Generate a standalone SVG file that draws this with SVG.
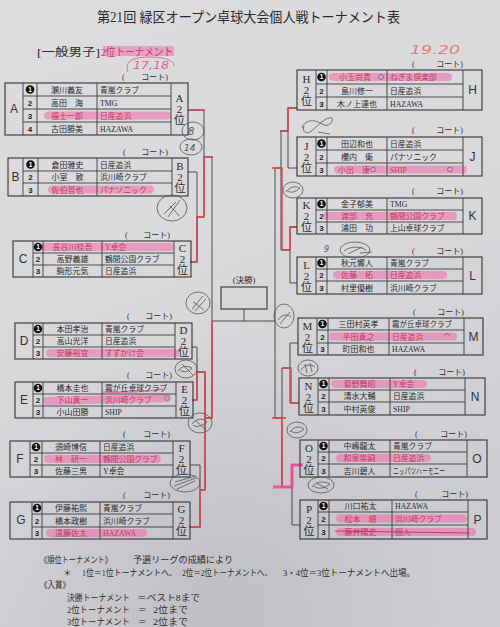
<svg xmlns="http://www.w3.org/2000/svg" width="500" height="627" viewBox="0 0 500 627">
<defs>
<linearGradient id="paper" x1="0" y1="0" x2="0.3" y2="1">
<stop offset="0" stop-color="#dcdcde"/>
<stop offset="0.5" stop-color="#d9d9dc"/>
<stop offset="1" stop-color="#cdcdd1"/>
</linearGradient>
<radialGradient id="shade" cx="0.45" cy="0.98" r="0.45">
<stop offset="0" stop-color="#b9b9be" stop-opacity="0.7"/>
<stop offset="1" stop-color="#b9b9be" stop-opacity="0"/>
</radialGradient>
<style>
.tb{fill:none;stroke:#333;stroke-width:1.1}
.tl{fill:none;stroke:#3a3a3a;stroke-width:0.9}
.br{fill:none;stroke:#4a4a4a;stroke-width:1}
.rd{fill:none;stroke:#d8404a;stroke-width:1.8;stroke-opacity:0.8;stroke-linejoin:round}
.pk{fill:none;stroke:#f0459a;stroke-width:3;stroke-opacity:0.85}
.hl{fill:none;stroke:#f06aa8;stroke-width:8;stroke-linecap:round;stroke-opacity:0.55}
.pc{fill:none;stroke:#555;stroke-width:0.8}
.s{font-family:"Liberation Serif","Noto Sans CJK JP",serif;fill:#2a2a2a}
.nm{font-size:8px;text-anchor:middle}
.cl{font-size:7.8px}
.nu{font-family:"Liberation Sans",sans-serif;font-size:8px;font-weight:bold;text-anchor:middle;fill:#222}
.n1{font-family:"Liberation Sans",sans-serif;font-size:6.5px;font-weight:bold;text-anchor:middle;fill:#fff}
.lt{font-family:"Liberation Sans",sans-serif;font-size:12px;text-anchor:middle;fill:#333}
.rk{font-size:11px;text-anchor:middle}
.ct{font-size:8px}
.ce{text-anchor:end}
.red{fill:#c2385c}
.hw{font-family:"DejaVu Sans",sans-serif;font-style:italic}
.ft{font-size:8.6px}
</style>
</defs>
<rect width="500" height="627" fill="url(#paper)"/>
<rect width="500" height="627" fill="url(#shade)"/>

<g id="header">
<text class="s" x="97" y="22" font-size="14" textLength="303" lengthAdjust="spacingAndGlyphs">第21回 緑区オープン卓球大会個人戦トーナメント表</text>
<path d="M103,51H174" stroke="#f06aa8" stroke-width="10" stroke-opacity="0.5"/>
<text class="s" x="37" y="56" font-size="11" textLength="63" lengthAdjust="spacingAndGlyphs">[一般男子]</text>
<text class="s" x="101" y="56" font-size="11" style="fill:#c8336a" textLength="72" lengthAdjust="spacingAndGlyphs">2位トーナメント</text>
<text class="hw" x="410" y="54" font-size="12" fill="#e07f6e" textLength="50" lengthAdjust="spacingAndGlyphs">19.20</text>
<text class="hw" x="133" y="69" font-size="10" fill="#e0608a" textLength="36" lengthAdjust="spacingAndGlyphs">17,18</text>
<path d="M128,72C124,62 132,57 150,57C166,57 174,61 174,66" fill="none" stroke="#e0608a" stroke-width="0.9"/>
</g>

<g id="connectors">
<path class="br" d="M188,110H204M188,172H197M191,262H197M197,172V262M197,217H204M204,110V217M204,157H212M192,347H197M193,400H197M197,347V400M197,372H205M190,465H200M190,527H200M200,465V527M200,490H205M205,372V490M205,418H212M212,157V418M212,321H275"/>
<path class="br" d="M297,108H288M297,168H288M288,108V168M288,131H281M297,227H290M297,283H290M290,227V283M290,250H281M281,131V250M281,168H275M298,343H290M299,403H290M290,343V403M290,368H282M300,465H292M300,525H292M292,465V525M292,487H282M282,368V487M282,418H275M275,168V418"/>
<path class="br" d="M244,309V321"/>
<path class="rd" d="M188,110H205"/>
<path class="rd" d="M213,157H204V217H197V262H190"/>
<path class="rd" d="M212,321V418H205V372H197V400H192"/>
<path class="rd" d="M205,418V490H200V527H189"/>
<path class="rd" d="M297,108H288V131H280"/>
<path class="rd" d="M297,227H290V250H282V168H272"/>
<path class="rd" d="M299,403H291V368H282"/>
<path class="rd" d="M272,418H286M282,418V487"/>
<path class="pk" d="M303,465H292V487H273"/>
</g>

<g id="final">
<text class="s" x="244" y="283" font-size="8.5" text-anchor="middle">(決勝)</text>
<rect class="tb" x="221" y="287" width="46" height="22"/>
</g>

<g id="block-A">
<path class="hl" d="M48,115.5H167"/>
<rect class="tb" x="5" y="83" width="183" height="52"/>
<path class="tl" d="M23,83V135M37,83V135M97,83V135M171,83V135M23,96H171M23,109H171M23,122H171"/>
<text class="s ct" x="122" y="80">(</text><text class="s ct ce" x="168" y="80">コート)</text>
<text class="lt" x="14" y="113">A</text>
<circle cx="30" cy="89.5" r="4.3" fill="#111"/><text class="n1" x="30" y="91.8">1</text>
<text class="nu" x="30" y="105.5">2</text><text class="nu" x="30" y="118.5">3</text><text class="nu" x="30" y="131.5">4</text>
<text class="s nm" x="67" y="92.5">瀬川義友</text><text class="s nm" x="67" y="105.5">高田　海</text><text class="s nm red" x="67" y="118.5">福士一郎</text><text class="s nm" x="67" y="131.5">古田勝美</text>
<text class="s cl" x="100" y="92.5">青嵐クラブ</text><text class="s cl" x="100" y="105.5">TMG</text><text class="s cl red" x="100" y="118.5">日産追浜</text><text class="s cl" x="100" y="131.5">HAZAWA</text>
<text class="s rk" x="179.5" y="102">A</text><text class="s rk" x="179.5" y="113">2</text><text class="s rk" x="179.5" y="124">位</text>
</g>

<g id="block-B">
<path class="hl" d="M52,189.5H150"/>
<rect class="tb" x="8" y="158" width="180" height="38"/>
<path class="tl" d="M23,158V196M38,158V196M97,158V196M172,158V196M23,171H172M23,183H172"/>
<text class="s ct" x="123" y="155">(</text><text class="s ct ce" x="168" y="155">コート)</text>
<text class="lt" x="15.5" y="181">B</text>
<circle cx="30.5" cy="164.5" r="4.3" fill="#111"/><text class="n1" x="30.5" y="166.8">1</text>
<text class="nu" x="30.5" y="180">2</text><text class="nu" x="30.5" y="192.5">3</text>
<text class="s nm" x="67.5" y="167.5">倉田雅史</text><text class="s nm" x="67.5" y="180">小室　敦</text><text class="s nm red" x="67.5" y="192.5">佐伯哲也</text>
<text class="s cl" x="100" y="167.5">日産追浜</text><text class="s cl" x="100" y="180">浜川崎クラブ</text><text class="s cl red" x="100" y="192.5">パナソニック</text>
<text class="s rk" x="180" y="170">B</text><text class="s rk" x="180" y="181">2</text><text class="s rk" x="180" y="192">位</text>
</g>

<g id="block-C">
<path class="hl" d="M45,247H170"/>
<rect class="tb" x="13" y="241" width="178" height="36"/>
<path class="tl" d="M33,241V277M43,241V277M102,241V277M174,241V277M33,253H174M33,265H174"/>
<text class="s ct" x="125" y="238">(</text><text class="s ct ce" x="170" y="238">コート)</text>
<text class="lt" x="23" y="263">C</text>
<circle cx="38" cy="247" r="4.3" fill="#111"/><text class="n1" x="38" y="249.3">1</text>
<text class="nu" x="38" y="262">2</text><text class="nu" x="38" y="274">3</text>
<text class="s nm red" x="72.5" y="250">長谷川桂吾</text><text class="s nm" x="72.5" y="262">高野義雄</text><text class="s nm" x="72.5" y="274">駒形元気</text>
<text class="s cl red" x="105" y="250">Y卓会</text><text class="s cl" x="105" y="262">鶴間公園クラブ</text><text class="s cl" x="105" y="274">日産追浜</text>
<text class="s rk" x="182.5" y="252">C</text><text class="s rk" x="182.5" y="263">2</text><text class="s rk" x="182.5" y="274">位</text>
</g>

<g id="block-D">
<path class="hl" d="M50,353H175"/>
<rect class="tb" x="15" y="323" width="177" height="36"/>
<path class="tl" d="M33,323V359M43,323V359M102,323V359M175,323V359M33,335H175M33,347H175"/>
<text class="s ct" x="127" y="319">(</text><text class="s ct ce" x="172" y="319">コート)</text>
<text class="lt" x="24" y="345">D</text>
<circle cx="38" cy="329" r="4.3" fill="#111"/><text class="n1" x="38" y="331.3">1</text>
<text class="nu" x="38" y="344">2</text><text class="nu" x="38" y="356">3</text>
<text class="s nm" x="72.5" y="332">本田孝治</text><text class="s nm" x="72.5" y="344">高山光洋</text><text class="s nm red" x="72.5" y="356">安藤裕宜</text>
<text class="s cl" x="105" y="332">青嵐クラブ</text><text class="s cl" x="105" y="344">日産追浜</text><text class="s cl red" x="105" y="356">すずかけ会</text>
<text class="s rk" x="183.5" y="334">D</text><text class="s rk" x="183.5" y="345">2</text><text class="s rk" x="183.5" y="356">位</text>
</g>

<g id="block-E">
<path class="hl" d="M47,401L167,398"/>
<path d="M103,392Q135,393 163,389" fill="none" stroke="#f06aa8" stroke-width="1.5"/>
<rect class="tb" x="15" y="382" width="178" height="36"/>
<path class="tl" d="M33,382V418M43,382V418M102,382V418M176,382V418M33,394H176M33,406H176"/>
<text class="s ct" x="127" y="378">(</text><text class="s ct ce" x="172" y="378">コート)</text>
<text class="lt" x="24" y="404">E</text>
<circle cx="38" cy="388" r="4.3" fill="#111"/><text class="n1" x="38" y="390.3">1</text>
<text class="nu" x="38" y="403">2</text><text class="nu" x="38" y="415">3</text>
<text class="s nm" x="72.5" y="391">橋本圭也</text><text class="s nm red" x="72.5" y="403">下山真一</text><text class="s nm" x="72.5" y="415">小山田勝</text>
<text class="s cl" x="105" y="391">霧が丘卓球クラブ</text><text class="s cl red" x="105" y="403">浜川崎クラブ</text><text class="s cl" x="105" y="415">SHIP</text>
<circle cx="167" cy="398" r="2.5" fill="none" stroke="#777" stroke-width="0.7"/>
<text class="s rk" x="184.5" y="393">E</text><text class="s rk" x="184.5" y="404">2</text><text class="s rk" x="184.5" y="415">位</text>
</g>

<g id="block-F">
<path class="hl" d="M48,459H157"/>
<rect class="tb" x="10" y="441" width="180" height="36"/>
<path class="tl" d="M30,441V477M42,441V477M100,441V477M173,441V477M30,453H173M30,465H173"/>
<text class="s ct" x="123" y="437">(</text><text class="s ct ce" x="170" y="437">コート)</text>
<text class="lt" x="20" y="463">F</text>
<circle cx="36" cy="447" r="4.3" fill="#111"/><text class="n1" x="36" y="449.3">1</text>
<text class="nu" x="36" y="462">2</text><text class="nu" x="36" y="474">3</text>
<text class="s nm" x="71" y="450">須崎博信</text><text class="s nm red" x="71" y="462">林　研一</text><text class="s nm" x="71" y="474">佐藤三男</text>
<text class="s cl" x="103" y="450">日産追浜</text><text class="s cl red" x="103" y="462">鶴間公園クラブ</text><text class="s cl" x="103" y="474">Y卓会</text>
<text class="s rk" x="181.5" y="452">F</text><text class="s rk" x="181.5" y="463">2</text><text class="s rk" x="181.5" y="474">位</text>
</g>

<g id="block-G">
<path class="hl" d="M50,533H143"/>
<rect class="tb" x="10" y="502" width="180" height="37"/>
<path class="tl" d="M32,502V539M42,502V539M100,502V539M173,502V539M32,514H173M32,527H173"/>
<text class="s ct" x="123" y="498">(</text><text class="s ct ce" x="170" y="498">コート)</text>
<text class="lt" x="21" y="524">G</text>
<circle cx="37" cy="508" r="4.3" fill="#111"/><text class="n1" x="37" y="510.3">1</text>
<text class="nu" x="37" y="523.5">2</text><text class="nu" x="37" y="536">3</text>
<text class="s nm" x="71" y="511">伊藤祐熙</text><text class="s nm" x="71" y="523.5">橋本政樹</text><text class="s nm red" x="71" y="536">遠藤佐太</text>
<text class="s cl" x="103" y="511">青嵐クラブ</text><text class="s cl" x="103" y="523.5">浜川崎クラブ</text><text class="s cl red" x="103" y="536">HAZAWA</text>
<text class="s rk" x="181.5" y="513">G</text><text class="s rk" x="181.5" y="524">2</text><text class="s rk" x="181.5" y="535">位</text>
</g>

<g id="block-H">
<path class="hl" d="M333,77H448"/>
<rect class="tb" x="297" y="70" width="185" height="40"/>
<path class="tl" d="M316,70V110M327,70V110M387,70V110M463,70V110M316,84H463M316,97H463"/>
<text class="s ct" x="412" y="67">(</text><text class="s ct ce" x="463" y="67">コート)</text>
<text class="s rk" x="306.5" y="83">H</text><text class="s rk" x="306.5" y="94">2</text><text class="s rk" x="306.5" y="105">位</text>
<circle cx="321.5" cy="77" r="4.3" fill="#111"/><text class="n1" x="321.5" y="79.3">1</text>
<text class="nu" x="321.5" y="93.5">2</text><text class="nu" x="321.5" y="106.5">3</text>
<text class="s nm red" x="355" y="80">小玉尚貴</text><text class="s nm" x="357" y="93.5">島川修一</text><text class="s nm" x="357" y="106.5">木ノ上達也</text>
<circle cx="381" cy="77" r="2.5" fill="none" stroke="#7a5a8a" stroke-width="0.8"/>
<text class="s cl red" x="390" y="80">ねぎま倶楽部</text><text class="s cl" x="390" y="93.5">日産追浜</text><text class="s cl" x="390" y="106.5">HAZAWA</text>
<text class="lt" x="472.5" y="94">H</text>
</g>

<g id="block-J">
<path class="hl" d="M338,169.5H463"/>
<rect class="tb" x="297" y="137" width="185" height="39"/>
<path class="tl" d="M316,137V176M327,137V176M387,137V176M463,137V176M316,150H463M316,163H463"/>
<text class="s ct" x="412" y="133">(</text><text class="s ct ce" x="463" y="133">コート)</text>
<text class="s rk" x="306.5" y="149.5">J</text><text class="s rk" x="306.5" y="160.5">2</text><text class="s rk" x="306.5" y="171.5">位</text>
<circle cx="321.5" cy="143.5" r="4.3" fill="#111"/><text class="n1" x="321.5" y="145.8">1</text>
<text class="nu" x="321.5" y="159.5">2</text><text class="nu" x="321.5" y="172.5">3</text>
<text class="s nm" x="357" y="146.5">田辺和也</text><text class="s nm" x="357" y="159.5">櫻内　衛</text><text class="s nm red" x="354" y="172.5">小出　康</text>
<circle cx="373" cy="169.5" r="2.5" fill="none" stroke="#7a5a8a" stroke-width="0.8"/>
<text class="s cl" x="390" y="146.5">日産追浜</text><text class="s cl" x="390" y="159.5">パナソニック</text><text class="s cl red" x="390" y="172.5">SHIP</text>
<circle cx="450" cy="169.5" r="2.5" fill="none" stroke="#7a5a8a" stroke-width="0.8"/>
<text class="lt" x="472.5" y="161">J</text>
</g>

<g id="block-K">
<path class="hl" d="M327,216H453"/>
<rect class="tb" x="297" y="198" width="185" height="36"/>
<path class="tl" d="M316,198V234M327,198V234M387,198V234M463,198V234M316,210H463M316,222H463"/>
<text class="s ct" x="412" y="194">(</text><text class="s ct ce" x="463" y="194">コート)</text>
<text class="s rk" x="306.5" y="209">K</text><text class="s rk" x="306.5" y="220">2</text><text class="s rk" x="306.5" y="231">位</text>
<circle cx="321.5" cy="204" r="4.3" fill="#111"/><text class="n1" x="321.5" y="206.3">1</text>
<text class="nu" x="321.5" y="219">2</text><text class="nu" x="321.5" y="231">3</text>
<text class="s nm" x="357" y="207">金子郁美</text><text class="s nm red" x="357" y="219">渡部　充</text><text class="s nm" x="357" y="231">浦田　功</text>
<text class="s cl" x="390" y="207">TMG</text><text class="s cl red" x="390" y="219">鶴間公園クラブ</text><text class="s cl" x="390" y="231">上山卓球クラブ</text>
<text class="lt" x="472.5" y="220">K</text>
</g>

<g id="block-L">
<path class="hl" d="M337,275H443"/>
<rect class="tb" x="297" y="257" width="185" height="37"/>
<path class="tl" d="M316,257V294M327,257V294M387,257V294M463,257V294M316,269H463M316,281H463"/>
<text class="s ct" x="412" y="254">(</text><text class="s ct ce" x="463" y="254">コート)</text>
<text class="s rk" x="306.5" y="268.5">L</text><text class="s rk" x="306.5" y="279.5">2</text><text class="s rk" x="306.5" y="290.5">位</text>
<circle cx="321.5" cy="263" r="4.3" fill="#111"/><text class="n1" x="321.5" y="265.3">1</text>
<text class="nu" x="321.5" y="278">2</text><text class="nu" x="321.5" y="290.5">3</text>
<text class="s nm" x="357" y="266">秋元響人</text><text class="s nm red" x="357" y="278">佐藤　拓</text><text class="s nm" x="357" y="290.5">村里優樹</text>
<text class="s cl" x="390" y="266">青嵐クラブ</text><text class="s cl red" x="390" y="278">日産追浜</text><text class="s cl" x="390" y="290.5">浜川崎クラブ</text>
<text class="lt" x="472.5" y="280">L</text>
</g>

<g id="block-M">
<path class="hl" d="M333,336.5H453"/>
<rect class="tb" x="298" y="318" width="185" height="37"/>
<path class="tl" d="M317,318V355M328,318V355M389,318V355M464,318V355M317,330H464M317,343H464"/>
<text class="s ct" x="413" y="315">(</text><text class="s ct ce" x="464" y="315">コート)</text>
<text class="s rk" x="307.5" y="329.5">M</text><text class="s rk" x="307.5" y="340.5">2</text><text class="s rk" x="307.5" y="351.5">位</text>
<circle cx="322.5" cy="324" r="4.3" fill="#111"/><text class="n1" x="322.5" y="326.3">1</text>
<text class="nu" x="322.5" y="339.5">2</text><text class="nu" x="322.5" y="352">3</text>
<text class="s nm" x="358.5" y="327">三田村英孝</text><text class="s nm red" x="358.5" y="339.5">平田真之</text><text class="s nm" x="358.5" y="352">町田和也</text>
<text class="s cl" x="392" y="327" textLength="60" lengthAdjust="spacingAndGlyphs">霧が丘卓球クラブ</text><text class="s cl red" x="392" y="339.5">日産追浜</text><text class="s cl" x="392" y="352">HAZAWA</text>
<path d="M444,335Q447,332 450,335" fill="none" stroke="#9a4a7a" stroke-width="0.8"/>
<text class="lt" x="473.5" y="341">M</text>
</g>

<g id="block-N">
<path class="hl" d="M335,384H423"/>
<rect class="tb" x="299" y="378" width="186" height="37"/>
<path class="tl" d="M318,378V415M329,378V415M390,378V415M465,378V415M318,390H465M318,402H465"/>
<text class="s ct" x="414" y="375">(</text><text class="s ct ce" x="465" y="375">コート)</text>
<text class="s rk" x="308.5" y="389.5">N</text><text class="s rk" x="308.5" y="400.5">2</text><text class="s rk" x="308.5" y="411.5">位</text>
<circle cx="323.5" cy="384" r="4.3" fill="#111"/><text class="n1" x="323.5" y="386.3">1</text>
<text class="nu" x="323.5" y="399">2</text><text class="nu" x="323.5" y="411.5">3</text>
<text class="s nm red" x="359.5" y="387">菊野舞昭</text><text class="s nm" x="359.5" y="399">清水大輔</text><text class="s nm" x="359.5" y="411.5">中村英俊</text>
<text class="s cl red" x="393" y="387">Y卓会</text><text class="s cl" x="393" y="399">日産追浜</text><text class="s cl" x="393" y="411.5">SHIP</text>
<text class="lt" x="475" y="401">N</text>
</g>

<g id="block-O">
<path class="hl" d="M340,458H427"/>
<rect class="tb" x="300" y="440" width="187" height="37"/>
<path class="tl" d="M318,440V477M329,440V477M390,440V477M467,440V477M318,452H467M318,464H467"/>
<text class="s ct" x="415" y="437">(</text><text class="s ct ce" x="467" y="437">コート)</text>
<text class="s rk" x="309" y="451.5">O</text><text class="s rk" x="309" y="462.5">2</text><text class="s rk" x="309" y="473.5">位</text>
<circle cx="323.5" cy="446" r="4.3" fill="#111"/><text class="n1" x="323.5" y="448.3">1</text>
<text class="nu" x="323.5" y="461">2</text><text class="nu" x="323.5" y="473.5">3</text>
<text class="s nm" x="359.5" y="449">中嶋龍太</text><text class="s nm red" x="359.5" y="461">和泉崇嗣</text><text class="s nm" x="359.5" y="473.5">吉川碧人</text>
<text class="s cl" x="393" y="449">青嵐クラブ</text><text class="s cl red" x="393" y="461">日産追浜</text><text class="s cl" x="393" y="473.5" font-size="6.5" textLength="52" lengthAdjust="spacingAndGlyphs">ニッパツハーモニー</text>
<text class="lt" x="477" y="463">O</text>
</g>

<g id="block-P">
<path class="hl" d="M340,518.5H463M340,532H472"/>
<rect class="tb" x="300" y="500" width="187" height="39"/>
<path class="tl" d="M318,500V539M329,500V539M392,500V539M468,500V539M318,512H468M318,525H468"/>
<text class="s ct" x="415" y="497">(</text><text class="s ct ce" x="468" y="497">コート)</text>
<text class="s rk" x="309" y="512.5">P</text><text class="s rk" x="309" y="523.5">2</text><text class="s rk" x="309" y="534.5">位</text>
<circle cx="323.5" cy="506" r="4.3" fill="#111"/><text class="n1" x="323.5" y="508.3">1</text>
<text class="nu" x="323.5" y="521.5">2</text><text class="nu" x="323.5" y="535">3</text>
<text class="s nm" x="360.5" y="509">川口祐太</text><text class="s nm red" x="360.5" y="521.5">松本　順</text><text class="s nm red" x="360.5" y="535">藤井陽史</text>
<text class="s cl" x="395" y="509">HAZAWA</text><text class="s cl red" x="395" y="521.5">浜川崎クラブ</text><text class="s cl red" x="395" y="535">個人</text>
<path d="M335,531L470,533" fill="none" stroke="#c8336a" stroke-width="1.1"/>
<text class="lt" x="477.5" y="524">P</text>
</g>

<g id="notes-pencil">
<ellipse class="pc" cx="193" cy="131" rx="11" ry="9"/>
<text class="hw" x="188" y="135" font-size="10" fill="#555">8</text>
<ellipse class="pc" cx="191" cy="147" rx="11" ry="8"/>
<text class="hw" x="184" y="151" font-size="9" fill="#555">14</text>
<ellipse class="pc" cx="172" cy="208" rx="15" ry="13"/>
<path class="pc" d="M164,214L176,202M168,217L180,200M170,206C174,210 176,212 179,216"/>
<ellipse class="pc" cx="198" cy="303" rx="12" ry="11"/>
<path class="pc" d="M192,309L203,296M195,311L206,299M193,302C198,305 201,308 204,310"/>
<ellipse class="pc" cx="186" cy="369" rx="11" ry="9"/>
<path class="pc" d="M178,371C182,365 188,366 192,368C188,372 184,373 180,370M182,364L193,375"/>
<ellipse class="pc" cx="200" cy="423" rx="12" ry="10"/>
<path class="pc" d="M192,424C196,418 204,418 207,422C202,426 196,428 193,425M195,420L206,430"/>
<ellipse class="pc" cx="185" cy="483" rx="15" ry="9"/>
<path class="pc" d="M174,486L196,478M175,482L196,476M177,489L195,481"/>
<path class="pc" d="M302,128C306,118 316,120 322,124C328,128 334,122 332,118C326,116 318,126 310,132C306,134 302,132 304,126M318,132L330,134"/>
<ellipse class="pc" cx="293" cy="190" rx="10" ry="8"/>
<path class="pc" d="M286,192C290,186 296,186 300,188C296,192 290,194 287,190"/>
<text class="hw" x="324" y="252" font-size="8" fill="#555">9</text>
<ellipse class="pc" cx="355" cy="250" rx="15" ry="8"/>
<path class="pc" d="M344,251C350,246 360,246 366,250M348,254L362,247M360,253L372,252"/>
<ellipse class="pc" cx="284" cy="316" rx="10" ry="12"/>
<path class="pc" d="M278,320C282,314 288,314 291,317M280,324L290,312"/>
<ellipse class="pc" cx="308" cy="368" rx="10" ry="8"/>
<path class="pc" d="M301,370C305,364 311,364 315,367M305,364L307,373M310,363L312,372"/>
<ellipse class="pc" cx="297" cy="430" rx="10" ry="8"/>
<path class="pc" d="M290,432C294,426 300,426 304,429C300,433 294,434 291,431"/>
<ellipse class="pc" cx="321" cy="485" rx="13" ry="8"/>
<path class="pc" d="M312,487C316,481 324,481 330,484C326,488 318,490 314,486M316,483L328,489"/>
</g>

<g id="footer">
<text class="s ft" x="40" y="563" textLength="72" lengthAdjust="spacingAndGlyphs">《順位トーナメント》</text>
<text class="s ft" x="133" y="563" textLength="100" lengthAdjust="spacingAndGlyphs">予選リーグの成績により</text>
<text class="s ft" x="63" y="576">＊</text>
<text class="s ft" x="82" y="576" textLength="95" lengthAdjust="spacingAndGlyphs">1位＝1位トーナメントへ、</text>
<text class="s ft" x="182" y="576" textLength="90" lengthAdjust="spacingAndGlyphs">2位＝2位トーナメントへ、</text>
<text class="s ft" x="283" y="576" textLength="132" lengthAdjust="spacingAndGlyphs">3・4位＝3位トーナメントへ出場。</text>
<text class="s ft" x="40" y="588" textLength="30" lengthAdjust="spacingAndGlyphs">《入賞》</text>
<text class="s ft" x="67" y="601" textLength="63" lengthAdjust="spacingAndGlyphs">決勝トーナメント</text>
<text class="s ft" x="137" y="601" textLength="63" lengthAdjust="spacingAndGlyphs">＝ベスト8まで</text>
<text class="s ft" x="67" y="613" textLength="63" lengthAdjust="spacingAndGlyphs">2位トーナメント</text>
<text class="s ft" x="138" y="613">＝</text>
<text class="s ft" x="153" y="613" textLength="35" lengthAdjust="spacingAndGlyphs">2位まで</text>
<text class="s ft" x="67" y="625" textLength="63" lengthAdjust="spacingAndGlyphs">3位トーナメント</text>
<text class="s ft" x="138" y="625">＝</text>
<text class="s ft" x="153" y="625" textLength="35" lengthAdjust="spacingAndGlyphs">2位まで</text>
</g>
</svg>
